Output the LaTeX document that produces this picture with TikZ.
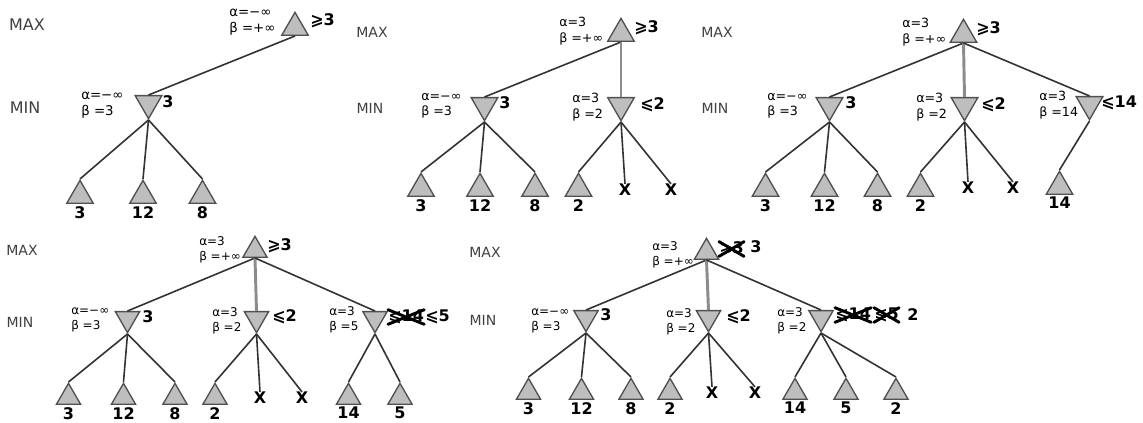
\documentclass[tikz,border=0pt]{standalone}
\usepackage{fontspec}
\setmainfont{DejaVu Sans}
\usetikzlibrary{shapes.geometric,positioning}
\definecolor{trifill}{HTML}{BEBEBE}
\definecolor{triline}{HTML}{505050}
\definecolor{edgeline}{HTML}{333333}
\tikzset{
  maxnode/.style={regular polygon,regular polygon sides=3,minimum size=23pt,
    inner sep=0pt,draw=triline,fill=trifill,line width=1pt},
  minnode/.style={maxnode,shape border rotate=180},
  lvl/.style={font=\fontsize{10.5}{12}\selectfont,text=black!75},
  ab/.style={font=\fontsize{9.5}{11.5}\selectfont,align=left,inner sep=0pt,anchor=west},
  val/.style={font=\bfseries\fontsize{12}{12}\selectfont,inner sep=0pt,anchor=west},
  leafval/.style={font=\bfseries\fontsize{12}{12}\selectfont,inner sep=0.5pt,below=1pt of #1},
  cutx/.style={font=\bfseries\fontsize{12}{12}\selectfont,inner sep=0pt},
  link/.style={draw=edgeline,line width=1.2pt},
  link2/.style={draw=black!45,line width=2.2pt},
  strike/.style={line width=2.2pt,line cap=round}
}
\newcommand{\crossout}[1]{\draw[strike] (#1.south west) -- (#1.north east) (#1.north west) -- (#1.south east);}

\begin{document}
\begin{tikzpicture}[x=0.75pt,y=-0.75pt]
  \useasboundingbox (0,0) rectangle (1143,423);

  % first step
  \node[lvl,font=\fontsize{12}{12}\selectfont] (p1max) at (27,25) {MAX};
  \node[lvl,font=\fontsize{12}{12}\selectfont] (p1min) at (25,108) {MIN};
  \node[maxnode,anchor=south] (p1M) at (295,36) {};
  \node[val] (p1Mv) at (310,21) {⩾3};
  \node[ab,font=\fontsize{10}{12.5}\selectfont] (p1Mab) at (229,22) {α=−∞\\β =+∞};
  \node[minnode,anchor=north] (p1A) at (148.5,95) {};
  \node[val] (p1Av) at (162,102) {3};
  \node[ab,font=\fontsize{10}{12}\selectfont] (p1Aab) at (81,105) {α=−∞\\β =3};
  \draw[link] (p1M.south) -- (p1A.north);
  \foreach \n/\x/\v in {a/80/3,b/143/12,c/202.5/8} {
    \node[maxnode,anchor=south] (p1\n) at (\x,204) {};
    \node[leafval=p1\n] (p1\n t) {\v};
    \draw[link] (p1A.south) -- (p1\n.north);
  }

  % second step
  \node[lvl] (p2max) at (372,32) {MAX};
  \node[lvl] (p2min) at (370,108) {MIN};
  \node[maxnode,anchor=south] (p2M) at (621,42) {};
  \node[val] (p2Mv) at (634,28) {⩾3};
  \node[ab] (p2Mab) at (559,31) {α=3\\β =+∞};
  \node[minnode,anchor=north] (p2A) at (484.5,97) {};
  \node[val] (p2Av) at (499,103) {3};
  \node[ab] (p2Aab) at (421,106) {α=−∞\\β =3};
  \node[minnode,anchor=north] (p2B) at (621,97) {};
  \node[val] (p2Bv) at (640,105) {⩽2};
  \node[ab] (p2Bab) at (572,107) {α=3\\β =2};
  \draw[link] (p2M.south) -- (p2A.north);
  \draw[link2] (p2M.south) -- (p2B.north);
  \foreach \n/\x/\v in {a/421/3,b/480/12,c/535/8} {
    \node[maxnode,anchor=south] (p2\n) at (\x,197) {};
    \node[leafval=p2\n] (p2\n t) {\v};
    \draw[link] (p2A.south) -- (p2\n.north);
  }
  \node[maxnode,anchor=south] (p2d) at (578.5,197) {};
  \node[leafval=p2d] (p2d t) {2};
  \node[cutx] (p2e) at (625,190) {X};
  \node[cutx] (p2f) at (671,190) {X};
  \foreach \n in {d,e,f} \draw[link] (p2B.south) -- (p2\n.north);

  % third step
  \node[lvl] (p3max) at (717,32) {MAX};
  \node[lvl] (p3min) at (715,108) {MIN};
  \node[maxnode,anchor=south] (p3M) at (963.5,43) {};
  \node[val] (p3Mv) at (976,29) {⩾3};
  \node[ab] (p3Mab) at (902,32) {α=3\\β =+∞};
  \node[minnode,anchor=north] (p3A) at (829.5,97) {};
  \node[val] (p3Av) at (845,103) {3};
  \node[ab] (p3Aab) at (767,106) {α=−∞\\β =3};
  \node[minnode,anchor=north] (p3B) at (964.5,97) {};
  \node[val] (p3Bv) at (981,105) {⩽2};
  \node[ab] (p3Bab) at (916,107) {α=3\\β =2};
  \node[minnode,anchor=north] (p3C) at (1089.5,96) {};
  \node[val] (p3Cv) at (1101,103) {⩽14};
  \node[ab] (p3Cab) at (1039,105) {α=3\\β =14};
  \draw[link] (p3M.south) -- (p3A.north);
  \draw[link2] (p3M.south) -- (p3B.north);
  \draw[link] (p3M.south) -- (p3C.north);
  \foreach \n/\x/\v in {a/765.5/3,b/824.5/12,c/877.5/8} {
    \node[maxnode,anchor=south] (p3\n) at (\x,197) {};
    \node[leafval=p3\n] (p3\n t) {\v};
    \draw[link] (p3A.south) -- (p3\n.north);
  }
  \node[maxnode,anchor=south] (p3d) at (920.5,197) {};
  \node[leafval=p3d] (p3d t) {2};
  \node[cutx] (p3e) at (968,188) {X};
  \node[cutx] (p3f) at (1013,188) {X};
  \foreach \n in {d,e,f} \draw[link] (p3B.south) -- (p3\n.north);
  \node[maxnode,anchor=south] (p3g) at (1059.5,195) {};
  \node[leafval=p3g] (p3g t) {14};
  \draw[link] (p3C.south) -- (p3g.north);

  % fourth step
  \begin{scope}[maxnode/.append style={minimum size=21pt},
    ab/.append style={font=\fontsize{9}{11}\selectfont}]
  \node[lvl] (p4max) at (22,250) {MAX};
  \node[lvl] (p4min) at (20,322) {MIN};
  \node[maxnode,anchor=south] (p4M) at (255,258) {};
  \node[val] (p4Mv) at (267,246) {⩾3};
  \node[ab] (p4Mab) at (199,250) {α=3\\β =+∞};
  \node[minnode,anchor=north] (p4A) at (127.5,311) {};
  \node[val] (p4Av) at (142,317) {3};
  \node[ab] (p4Aab) at (71,320) {α=−∞\\β =3};
  \node[minnode,anchor=north] (p4B) at (256.5,311) {};
  \node[val] (p4Bv) at (272,317) {⩽2};
  \node[ab] (p4Bab) at (212,321) {α=3\\β =2};
  \node[minnode,anchor=north] (p4C) at (375,311) {};
  \node[val] (p4Cv) at (388,317) {⩽14};
  \crossout{p4Cv}
  \node[val] (p4Cw) at (425,317) {⩽5};
  \node[ab] (p4Cab) at (329,320) {α=3\\β =5};
  \draw[link] (p4M.south) -- (p4A.north);
  \draw[link2] (p4M.south) -- (p4B.north);
  \draw[link] (p4M.south) -- (p4C.north);
  \foreach \n/\x/\v in {a/68.5/3,b/123.5/12,c/175/8} {
    \node[maxnode,anchor=south] (p4\n) at (\x,405) {};
    \node[leafval=p4\n] (p4\n t) {\v};
    \draw[link] (p4A.south) -- (p4\n.north);
  }
  \node[maxnode,anchor=south] (p4d) at (215,405) {};
  \node[leafval=p4d] (p4d t) {2};
  \node[cutx] (p4e) at (260,398) {X};
  \node[cutx] (p4f) at (302,398) {X};
  \foreach \n in {d,e,f} \draw[link] (p4B.south) -- (p4\n.north);
  \foreach \n/\x/\v in {g/348.5/14,h/400/5} {
    \node[maxnode,anchor=south] (p4\n) at (\x,405) {};
    \node[leafval=p4\n] (p4\n t) {\v};
    \draw[link] (p4C.south) -- (p4\n.north);
  }

  % fifth step
  \node[lvl] (p5max) at (485,252) {MAX};
  \node[lvl] (p5min) at (483,320) {MIN};
  \node[maxnode,anchor=south] (p5M) at (706.5,260) {};
  \node[val] (p5Mv) at (719,249) {⩾3};
  \crossout{p5Mv}
  \node[val] (p5Mw) at (750,247) {3};
  \node[ab] (p5Mab) at (652,255) {α=3\\β =+∞};
  \node[minnode,anchor=north] (p5A) at (586,310) {};
  \node[val] (p5Av) at (600,315) {3};
  \node[ab] (p5Aab) at (531,321) {α=−∞\\β =3};
  \node[minnode,anchor=north] (p5B) at (708.5,310) {};
  \node[val] (p5Bv) at (726,317) {⩽2};
  \node[ab] (p5Bab) at (666,322) {α=3\\β =2};
  \node[minnode,anchor=north] (p5C) at (821,310) {};
  \node[val] (p5Cv) at (835,315) {⩽14};
  \crossout{p5Cv}
  \node[val] (p5Cw) at (874,315) {⩽5};
  \crossout{p5Cw}
  \node[val] (p5Cx) at (907,315) {2};
  \node[ab] (p5Cab) at (777,321) {α=3\\β =2};
  \draw[link] (p5M.south) -- (p5A.north);
  \draw[link2] (p5M.south) -- (p5B.north);
  \draw[link] (p5M.south) -- (p5C.north);
  \foreach \n/\x/\v in {a/528.5/3,b/581.5/12,c/631/8} {
    \node[maxnode,anchor=south] (p5\n) at (\x,400) {};
    \node[leafval=p5\n] (p5\n t) {\v};
    \draw[link] (p5A.south) -- (p5\n.north);
  }
  \node[maxnode,anchor=south] (p5d) at (670,400) {};
  \node[leafval=p5d] (p5d t) {2};
  \node[cutx] (p5e) at (712,393) {X};
  \node[cutx] (p5f) at (755,393) {X};
  \foreach \n in {d,e,f} \draw[link] (p5B.south) -- (p5\n.north);
  \foreach \n/\x/\v in {g/795/14,h/846/5,i/896/2} {
    \node[maxnode,anchor=south] (p5\n) at (\x,400) {};
    \node[leafval=p5\n] (p5\n t) {\v};
    \draw[link] (p5C.south) -- (p5\n.north);
  }
  \end{scope}
\end{tikzpicture}
\end{document}
